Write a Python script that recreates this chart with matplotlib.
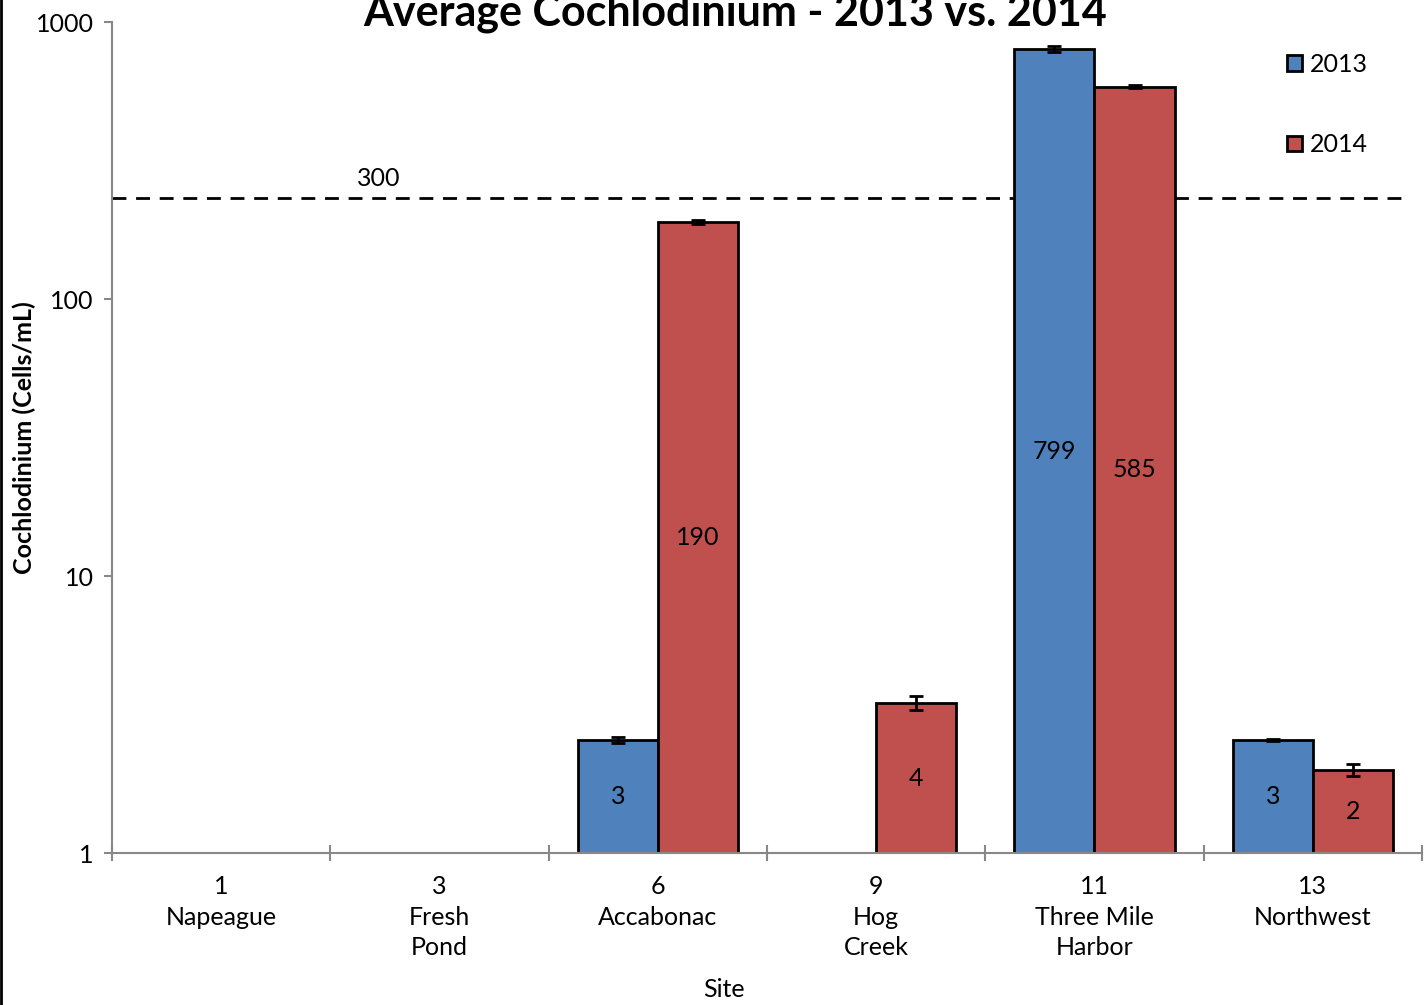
import matplotlib.pyplot as plt
import numpy as np
from matplotlib.lines import Line2D

plt.rcParams['font.family'] = ['Lato', 'DejaVu Sans']

# data
sites = ['1\nNapeague', '3\nFresh\nPond', '6\nAccabonac', '9\nHog\nCreek',
         '11\nThree Mile\nHarbor', '13\nNorthwest']
avg_2013 = [np.nan, np.nan, 2.56, np.nan, 799, 2.56]
err_2013 = [np.nan, np.nan, 0.07, np.nan, 20, 0.03]
avg_2014 = [np.nan, np.nan, 190, 3.48, 585, 1.99]
err_2014 = [np.nan, np.nan, 3, 0.2, 8, 0.1]
labels_2013 = ['', '', '3', '', '799', '3']
labels_2014 = ['', '', '190', '4', '585', '2']
threshold = 232
threshold_label = '300'

fig = plt.figure(figsize=(14.28, 10.05), dpi=100)
ax = fig.add_axes([0.0784, 0.1512, 0.9174, 0.8269])

x = np.arange(len(sites))
w = 0.367
blue = '#4F81BD'
red = '#C0504D'
fs = 18

ax.bar(x - w / 2, avg_2013, w, color=blue, edgecolor='black', linewidth=2, label='2013', zorder=2)
ax.bar(x + w / 2, avg_2014, w, color=red, edgecolor='black', linewidth=2, label='2014', zorder=2)
ax.errorbar(x - w / 2, avg_2013, yerr=err_2013, fmt='none', ecolor='black', elinewidth=2,
            capsize=5, capthick=2, zorder=3)
ax.errorbar(x + w / 2, avg_2014, yerr=err_2014, fmt='none', ecolor='black', elinewidth=2,
            capsize=5, capthick=2, zorder=3)

for i in range(len(sites)):
    if labels_2013[i]:
        ax.text(x[i] - w / 2, np.sqrt(avg_2013[i]), labels_2013[i], ha='center', va='center',
                fontsize=fs, zorder=4)
    if labels_2014[i]:
        ax.text(x[i] + w / 2, np.sqrt(avg_2014[i]), labels_2014[i], ha='center', va='center',
                fontsize=fs, zorder=4)

ax.axhline(threshold, xmin=0, xmax=0.989, color='black', linestyle=(0, (5, 3.5)),
           linewidth=2, zorder=1)
ax.text(0.72, threshold * 1.07, threshold_label, fontsize=fs, ha='center', va='bottom')

ax.set_yscale('log')
ax.set_ylim(1, 1000)
ax.set_xlim(-0.5, len(sites) - 0.5)
ax.set_yticks([1, 10, 100, 1000])
ax.set_yticklabels(['1', '10', '100', '1000'])
ax.yaxis.set_minor_locator(plt.NullLocator())
ax.tick_params(axis='y', which='major', direction='out', length=6, width=1.5,
               color='#888888', labelsize=fs, pad=7)

ax.set_xticks(np.arange(len(sites) + 1) - 0.5)
ax.set_xticklabels([])
ax.tick_params(axis='x', which='major', direction='inout', length=12, width=1.5, color='#888888')
ax.set_xticks(x, minor=True)
ax.set_xticklabels(sites, minor=True, fontsize=fs, linespacing=1.4)
ax.tick_params(axis='x', which='minor', length=0, pad=16)

for s in ['top', 'right']:
    ax.spines[s].set_visible(False)
for s in ['left', 'bottom']:
    ax.spines[s].set_color('#888888')
    ax.spines[s].set_linewidth(1.5)

ax.set_ylabel('Cochlodinium (Cells/mL)', fontsize=fs, fontweight='bold')
ax.yaxis.set_label_coords(-0.058, 0.5)
ax.set_xlabel('Site', fontsize=fs)
ax.xaxis.set_label_coords(0.467, -0.150)

leg = ax.legend(loc='upper left', bbox_to_anchor=(0.88, 0.99), frameon=False, fontsize=fs,
                handlelength=0.6, handleheight=0.6, labelspacing=2.3, handletextpad=0.3)
for h in leg.legend_handles:
    h.set_linewidth(2)

fig.text(0.515, 0.975, 'Average Cochlodinium - 2013 vs. 2014', fontsize=31, fontweight='bold',
         ha='center', va='baseline')
fig.add_artist(Line2D([0.001, 0.001], [0, 1], color='black', linewidth=2, transform=fig.transFigure))

fig.savefig('out.png', dpi=100)
